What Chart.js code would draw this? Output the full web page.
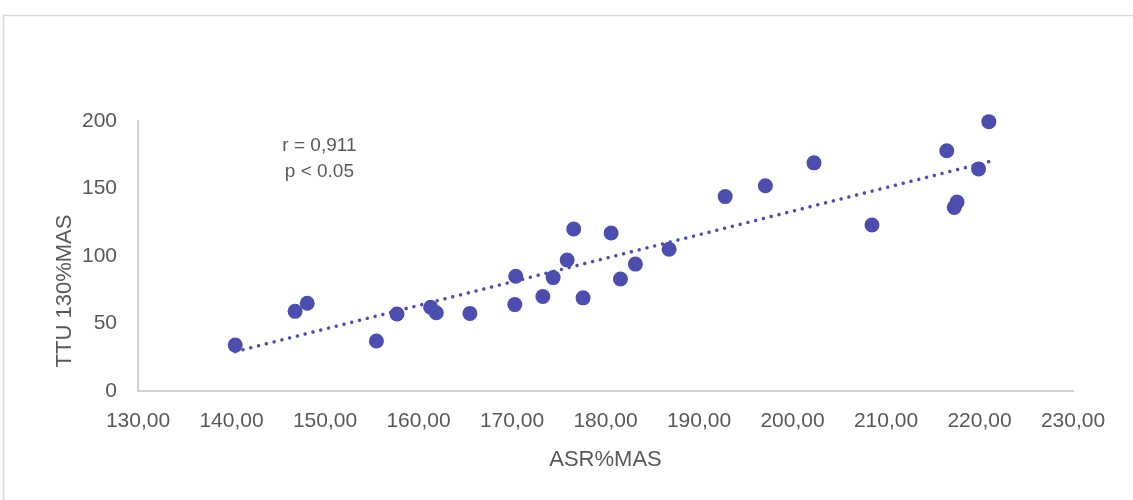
<!DOCTYPE html>
<html>
<head>
<meta charset="utf-8">
<script src="https://cdn.jsdelivr.net/npm/chart.js@4.4.1/dist/chart.umd.min.js"></script>
<style>
  html, body { margin: 0; padding: 0; background: #fff; }
  #wrap { width: 1133px; height: 500px; }
</style>
</head>
<body>
<div id="wrap"><canvas id="chart" width="1133" height="500"></canvas></div>
<script>
// ASR%MAS (x) vs TTU 130%MAS (y)
const asrMas = [140.4, 146.8, 148.1, 155.5, 157.7, 161.3, 161.9, 165.5, 170.4, 170.3,
                173.3, 174.4, 175.9, 176.6, 177.6, 180.6, 181.6, 183.2, 186.8, 192.8,
                197.1, 202.3, 208.5, 216.5, 217.3, 217.6, 219.9, 221.0];
const ttuMas = [34, 59, 65, 37, 57, 62, 58, 57.5, 85, 64,
                70, 84, 97, 120, 69, 117, 83, 94, 105, 144,
                152, 169, 123, 178, 136, 140, 164.5, 199.5];

const xTicks = [130, 140, 150, 160, 170, 180, 190, 200, 210, 220, 230];
const yTicks = [0, 50, 100, 150, 200];
const statsLines = ['r = 0,911', 'p < 0.05'];
const statsAt = [149.4, 182];   // posizione del testo in unità dati

const xTitle = 'ASR%MAS';
const yTitle = 'TTU 130%MAS';

const dotColor = 'rgb(75, 78, 174)';
const textColor = '#595959';
const axisColor = '#d0d0d0';
const font = '"Liberation Sans", Arial, sans-serif';

// retta di regressione (minimi quadrati) sui dati
function linearFit(xs, ys) {
  const n = xs.length;
  const mx = xs.reduce((a, b) => a + b, 0) / n;
  const my = ys.reduce((a, b) => a + b, 0) / n;
  let sxy = 0, sxx = 0;
  for (let i = 0; i < n; i++) {
    sxy += (xs[i] - mx) * (ys[i] - my);
    sxx += (xs[i] - mx) ** 2;
  }
  const slope = sxy / sxx;
  return { slope, intercept: my - slope * mx };
}

const fit = linearFit(asrMas, ttuMas);
const xMin = Math.min(...asrMas);
const xMax = Math.max(...asrMas);
const trend = [xMin, xMax].map(x => ({ x, y: fit.intercept + fit.slope * x }));

const points = asrMas.map((x, i) => ({ x, y: ttuMas[i] }));

const fmtComma = v => v.toFixed(2).replace('.', ',');

// cornice, titolo asse y e testo r / p
const decor = {
  id: 'decor',
  beforeDraw(chart) {
    const { ctx } = chart;
    ctx.save();
    ctx.strokeStyle = '#d9d9d9';
    ctx.lineWidth = 1.5;
    ctx.beginPath();
    ctx.moveTo(3.5, 520);
    ctx.lineTo(3.5, 15.5);
    ctx.lineTo(1150, 15.5);
    ctx.stroke();
    ctx.restore();
  },
  afterDatasetsDraw(chart) {
    const { ctx, scales: { x, y } } = chart;
    ctx.save();
    ctx.fillStyle = textColor;
    ctx.textAlign = 'center';
    ctx.textBaseline = 'middle';
    ctx.font = '19px ' + font;
    const px = x.getPixelForValue(statsAt[0]);
    const py = y.getPixelForValue(statsAt[1]);
    statsLines.forEach((t, i) => ctx.fillText(t, px, py + i * 26));

    ctx.font = '22px ' + font;
    ctx.translate(65, 291);
    ctx.rotate(-Math.PI / 2);
    ctx.fillText(yTitle, 0, 0);
    ctx.restore();
  }
};

new Chart(document.getElementById('chart').getContext('2d'), {
  type: 'scatter',
  data: {
    datasets: [
      {
        label: 'trend',
        data: trend,
        showLine: true,
        borderColor: dotColor,
        borderWidth: 3.5,
        borderDash: [0.01, 8],
        borderCapStyle: 'round',
        pointRadius: 0,
        fill: false,
        clip: false,
        order: 1
      },
      {
        label: 'dati',
        data: points,
        backgroundColor: dotColor,
        borderWidth: 0,
        pointRadius: 7.5,
        clip: false,
        order: 2
      }
    ]
  },
  options: {
    responsive: false,
    animation: false,
    devicePixelRatio: 1,
    layout: { padding: { left: 0, top: 121, right: 60, bottom: 0 } },
    plugins: { legend: { display: false }, tooltip: { enabled: false } },
    scales: {
      x: {
        type: 'linear',
        min: xTicks[0],
        max: xTicks[xTicks.length - 1],
        afterBuildTicks: s => { s.ticks = xTicks.map(v => ({ value: v })); },
        afterFit: s => { s.height = 109; },
        grid: { display: false, drawTicks: false },
        border: { color: axisColor, width: 2 },
        ticks: {
          color: textColor,
          font: { family: font, size: 21 },
          padding: 18,
          maxRotation: 0,
          callback: v => fmtComma(v)
        },
        title: {
          display: true,
          text: xTitle,
          color: textColor,
          font: { family: font, size: 22 },
          padding: { top: 0, bottom: 27 }
        }
      },
      y: {
        type: 'linear',
        min: yTicks[0],
        max: yTicks[yTicks.length - 1],
        afterBuildTicks: s => { s.ticks = yTicks.map(v => ({ value: v })); },
        afterFit: s => { s.width = 138; },
        grid: { display: false, drawTicks: false },
        border: { color: axisColor, width: 2 },
        ticks: {
          color: textColor,
          font: { family: font, size: 21 },
          padding: 21
        }
      }
    }
  },
  plugins: [decor]
});
</script>
</body>
</html>
